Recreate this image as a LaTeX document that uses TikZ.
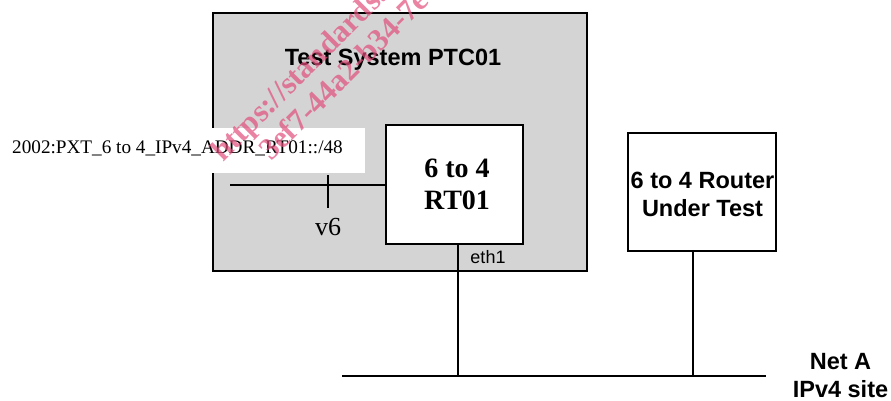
\documentclass[tikz,border=0pt]{standalone}
\usepackage{fontspec}
\setmainfont{Liberation Serif}
\setsansfont{Liberation Sans}
\definecolor{panelgray}{RGB}{212,212,212}
\definecolor{wmpink}{RGB}{226,78,124}
\tikzset{
  boxline/.style={draw=black, line width=1.5pt},
  wire/.style={draw=black, line width=1.5pt},
  sansbig/.style={font=\sffamily\bfseries\fontsize{23.5}{28}\selectfont, align=center, inner sep=0pt},
  serifbig/.style={font=\rmfamily\bfseries\fontsize{28}{32}\selectfont, align=center, inner sep=0pt},
  watermark/.style={font=\rmfamily\bfseries\fontsize{31}{35}\selectfont, text=wmpink, opacity=0.7,
                    rotate=45, anchor=base west, inner sep=0pt}
}
\begin{document}
\begin{tikzpicture}[x=1pt, y=-1pt]
\useasboundingbox (0,0) rectangle (891,400);

% test system panel
\node[boxline, fill=panelgray, minimum width=374pt, minimum height=258pt, inner sep=0pt,
      line width=2pt] (ptc) at (400,142) {};
\node[sansbig] (ptctitle) at (393,60) {Test System PTC01};

% address label
\fill[white] (0,128) rectangle (365,173);
\node[font=\rmfamily\fontsize{19.2}{22}\selectfont, anchor=west, inner sep=0pt] (addr) at (12,148)
  {2002:PXT\_6 to 4\_IPv4\_ADDR\_RT01::/48};

% 6to4 relay inside the test system
\node[boxline, fill=white, minimum width=137pt, minimum height=119pt, inner sep=0pt] (rt) at (454.5,184.5) {};
\node[serifbig] (rtlabel) at (457,184) {6 to 4\\RT01};

% v6 side link
\coordinate (v6end) at (230,185);
\coordinate (ticktop) at (328,175);
\coordinate (tickbot) at (328,208);
\draw[wire] (v6end) -- (v6end -| rt.west);
\draw[wire] (ticktop) -- (tickbot);
\node[font=\rmfamily\fontsize{26}{30}\selectfont, inner sep=0pt] (v6) at (328,227) {v6};

% router under test
\node[boxline, fill=white, minimum width=148pt, minimum height=118pt, inner sep=0pt] (dut) at (702,192) {};
\node[sansbig] (dutlabel) at (702.5,194) {6 to 4 Router\\Under Test};

% network A
\coordinate (netL) at (342,376);
\coordinate (netR) at (766,376);
\draw[wire] (netL) -- (netR);
\draw[wire] ([xshift=3.5pt]rt.south) -- ([xshift=3.5pt]rt.south |- netL);
\draw[wire] ([xshift=-9pt]dut.south) -- ([xshift=-9pt]dut.south |- netL);
\node[font=\sffamily\fontsize{18}{21}\selectfont, inner sep=0pt] (eth) at (488,257) {eth1};
\node[sansbig] (neta) at (840.5,375.5) {Net A\\IPv4 site};

% overlay stamp
\begin{scope}
\clip (0,0) rectangle (891,400);
\node[watermark] (wm1) at (223,163) {https://standards.iteh.ai/catalog};
\node[watermark] (wm2) at (271,162) {3ef7-44a2-b34-7e};
\end{scope}
\end{tikzpicture}
\end{document}
